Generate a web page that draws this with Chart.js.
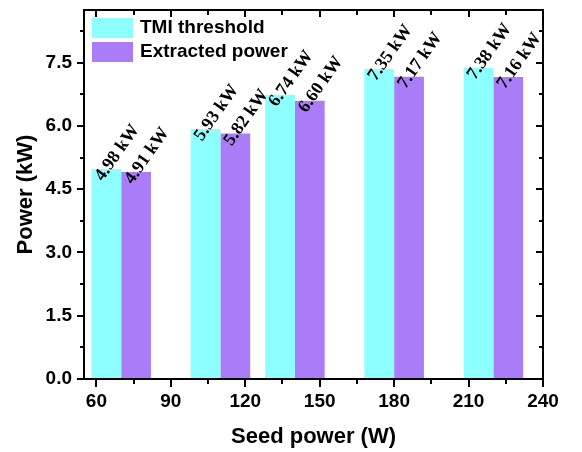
<!DOCTYPE html>
<html><head><meta charset="utf-8">
<script src="https://cdn.jsdelivr.net/npm/chart.js@4/dist/chart.umd.min.js"></script>
<style>html,body{margin:0;padding:0;background:#fff}#wrap{width:582px;height:452px}</style>
</head><body><div id="wrap"><canvas id="c" width="582" height="452"></canvas></div>
<script>
const seedPower = [70, 110, 140, 180, 220];
const tmiThreshold = [4.98, 5.93, 6.74, 7.35, 7.38];
const extractedPower = [4.91, 5.82, 6.60, 7.17, 7.16];
const xTicks = [60, 90, 120, 150, 180, 210, 240];
const yTicks = [0, 1.5, 3.0, 4.5, 6.0, 7.5];
const seriesNames = ['TMI threshold', 'Extracted power'];
const seriesColors = ['#8effff', '#aa7cf8'];

const toPoints = vals => seedPower.map((x, i) => ({x: x, y: vals[i]}));

const SANS = '"Liberation Sans", Arial, sans-serif';
const SERIF = '"Liberation Serif", "Times New Roman", serif';
const ANGLE = 55 * Math.PI / 180;

const labelPlugin = {
  id: 'barLabels',
  afterDatasetsDraw(chart) {
    const ctx = chart.ctx;
    ctx.save();
    ctx.font = 'bold 18px ' + SERIF;
    ctx.fillStyle = '#000';
    chart.data.datasets.forEach((ds, i) => {
      chart.getDatasetMeta(i).data.forEach((bar, j) => {
        const v = ds.data[j].y;
        ctx.save();
        ctx.translate(bar.x, bar.y);
        ctx.rotate(-ANGLE);
        ctx.textAlign = 'left';
        ctx.textBaseline = 'alphabetic';
        ctx.fillText(v.toFixed(2) + ' kW', -12.5, 4.5);
        ctx.restore();
      });
    });
    ctx.restore();
  }
};

const framePlugin = {
  id: 'frame',
  afterDraw(chart) {
    const ctx = chart.ctx;
    const {left, right, top, bottom} = chart.chartArea;
    const xs = chart.scales.x, ys = chart.scales.y;
    ctx.save();
    ctx.strokeStyle = '#000';
    ctx.lineWidth = 2;
    ctx.strokeRect(left, top, right - left, bottom - top);
    ctx.beginPath();
    for (let v = xTicks[0]; v <= xTicks[xTicks.length - 1]; v += 15) {
      const major = xTicks.includes(v);
      const px = Math.round(xs.getPixelForValue(v));
      ctx.moveTo(px, bottom); ctx.lineTo(px, bottom + (major ? 8 : 5));
      ctx.moveTo(px, top); ctx.lineTo(px, top + (major ? 7 : 5));
    }
    for (let k = 0; k <= 11; k++) {
      const v = k * 0.75;
      const major = k % 2 === 0;
      const py = Math.round(ys.getPixelForValue(v));
      ctx.moveTo(left - (major ? 7 : 4), py); ctx.lineTo(left, py);
      ctx.moveTo(right, py); ctx.lineTo(right - (major ? 7 : 4), py);
    }
    ctx.stroke();
    // legend
    ctx.font = 'bold 19px ' + SANS;
    ctx.textAlign = 'left';
    ctx.textBaseline = 'middle';
    chart.data.datasets.forEach((ds, i) => {
      const bx = left + 8, by = top + 8 + i * 24;
      ctx.fillStyle = ds.backgroundColor;
      ctx.fillRect(bx, by, 41, 20);
      ctx.fillStyle = '#000';
      ctx.fillText(ds.label, bx + 48, by + 10);
    });
    ctx.restore();
  }
};

new Chart(document.getElementById('c'), {
  type: 'bar',
  data: {
    datasets: [
      {label: seriesNames[0], data: toPoints(tmiThreshold), backgroundColor: seriesColors[0]},
      {label: seriesNames[1], data: toPoints(extractedPower), backgroundColor: seriesColors[1]}
    ]
  },
  options: {
    responsive: false,
    animation: false,
    devicePixelRatio: 1,
    categoryPercentage: 0.8,
    barPercentage: 1.0,
    layout: {padding: {top: 10, right: 39, left: 0, bottom: 0}},
    plugins: {legend: {display: false}, tooltip: {enabled: false}},
    scales: {
      x: {
        type: 'linear', min: 55, max: 240, offset: false,
        afterBuildTicks: s => { s.ticks = xTicks.map(v => ({value: v})); },
        afterFit: s => { s.height = 73; s.paddingLeft = 0; s.paddingRight = 0; },
        grid: {display: false, drawTicks: false},
        border: {display: false},
        ticks: {padding: 11, color: '#000', font: {family: SANS, size: 19, weight: 'bold'}},
        title: {display: true, text: 'Seed power (W)', color: '#000', padding: {top: 0, bottom: 2},
                font: {family: SANS, size: 22, weight: 'bold'}}
      },
      y: {
        type: 'linear', min: 0, max: 8.75,
        afterBuildTicks: s => { s.ticks = yTicks.map(v => ({value: v})); },
        afterFit: s => { s.width = 84; s.paddingTop = 0; s.paddingBottom = 0; },
        grid: {display: false, drawTicks: false},
        border: {display: false},
        ticks: {padding: 12, color: '#000', font: {family: SANS, size: 19, weight: 'bold'},
                callback: v => v.toFixed(1)},
        title: {display: true, text: 'Power (kW)', color: '#000', padding: {top: 13, bottom: 0},
                font: {family: SANS, size: 22, weight: 'bold'}}
      }
    }
  },
  plugins: [labelPlugin, framePlugin]
});
</script>
</body></html>
